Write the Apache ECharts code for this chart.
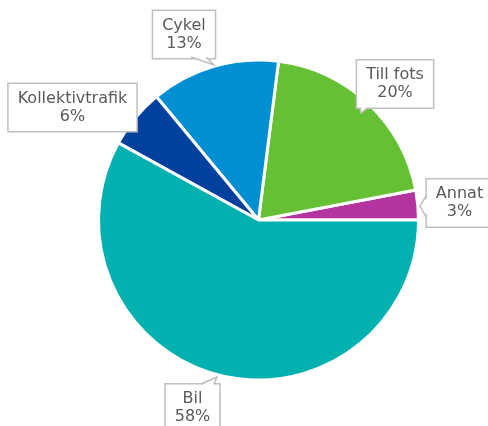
<!DOCTYPE html>
<html><head><meta charset="utf-8">
<script src="https://cdn.jsdelivr.net/npm/echarts@6/dist/echarts.min.js"></script>
<style>html,body{margin:0;padding:0;background:#fff}#c{width:488px;height:426px}</style>
</head><body><div id="c"></div>
<script>
const categories = ['Annat', 'Till fots', 'Cykel', 'Kollektivtrafik', 'Bil'];
const values = [3, 20, 13, 6, 58];
const colors = ['#b4359f', '#65c133', '#008fd3', '#0041a0', '#00b1b0'];
// label box centres (layout only)
const labelPos = [[459.5, 203], [395, 84], [184, 34.5], [72.5, 107.5], [192.5, 408]];

const chart = echarts.init(document.getElementById('c'), null, {renderer: 'canvas'});
const stroke = '#bfbfbf';
function pointer(pts, cover) {
  return [
    {type: 'polygon', z: 100, shape: {points: cover}, style: {fill: '#fff', stroke: null}},
    {type: 'polyline', z: 101, shape: {points: pts}, style: {stroke: stroke, lineWidth: 1.5, fill: null}}
  ];
}
chart.setOption({
  animation: false,
  series: [{
    type: 'pie',
    center: [258.5, 220],
    radius: 160,
    startAngle: 0,
    clockwise: false,
    data: categories.map((n, i) => ({name: n, value: values[i], itemStyle: {color: colors[i]}})),
    itemStyle: {borderColor: '#fff', borderWidth: 3},
    label: {
      show: true,
      position: 'inside',
      formatter: p => p.name + '\n' + p.value + '%',
      fontFamily: "'DejaVu Sans', Verdana, sans-serif",
      fontSize: 16,
      lineHeight: 18,
      color: '#595959',
      textBorderWidth: 0,
      align: 'center',
      verticalAlign: 'middle',
      backgroundColor: '#fff',
      borderColor: stroke,
      borderWidth: 1.5,
      padding: [6, 9, 5, 9]
    },
    labelLine: {show: false},
    labelLayout: p => ({x: labelPos[p.dataIndex][0], y: labelPos[p.dataIndex][1], align: 'center', verticalAlign: 'middle'})
  }],
  graphic: [].concat(
    pointer([[191, 57], [214, 65], [206, 57]], [[192, 56], [214, 65], [205, 56]]),
    pointer([[426, 196], [420, 206], [426, 217]], [[428, 197], [420, 206], [428, 216]]),
    pointer([[201, 384], [217, 377], [214, 384]], [[202, 385], [217, 377], [213, 385]]),
    pointer([[360, 108], [361, 113], [368, 108]], [[361, 107], [361, 113], [367, 107]])
  )
});
</script></body></html>
